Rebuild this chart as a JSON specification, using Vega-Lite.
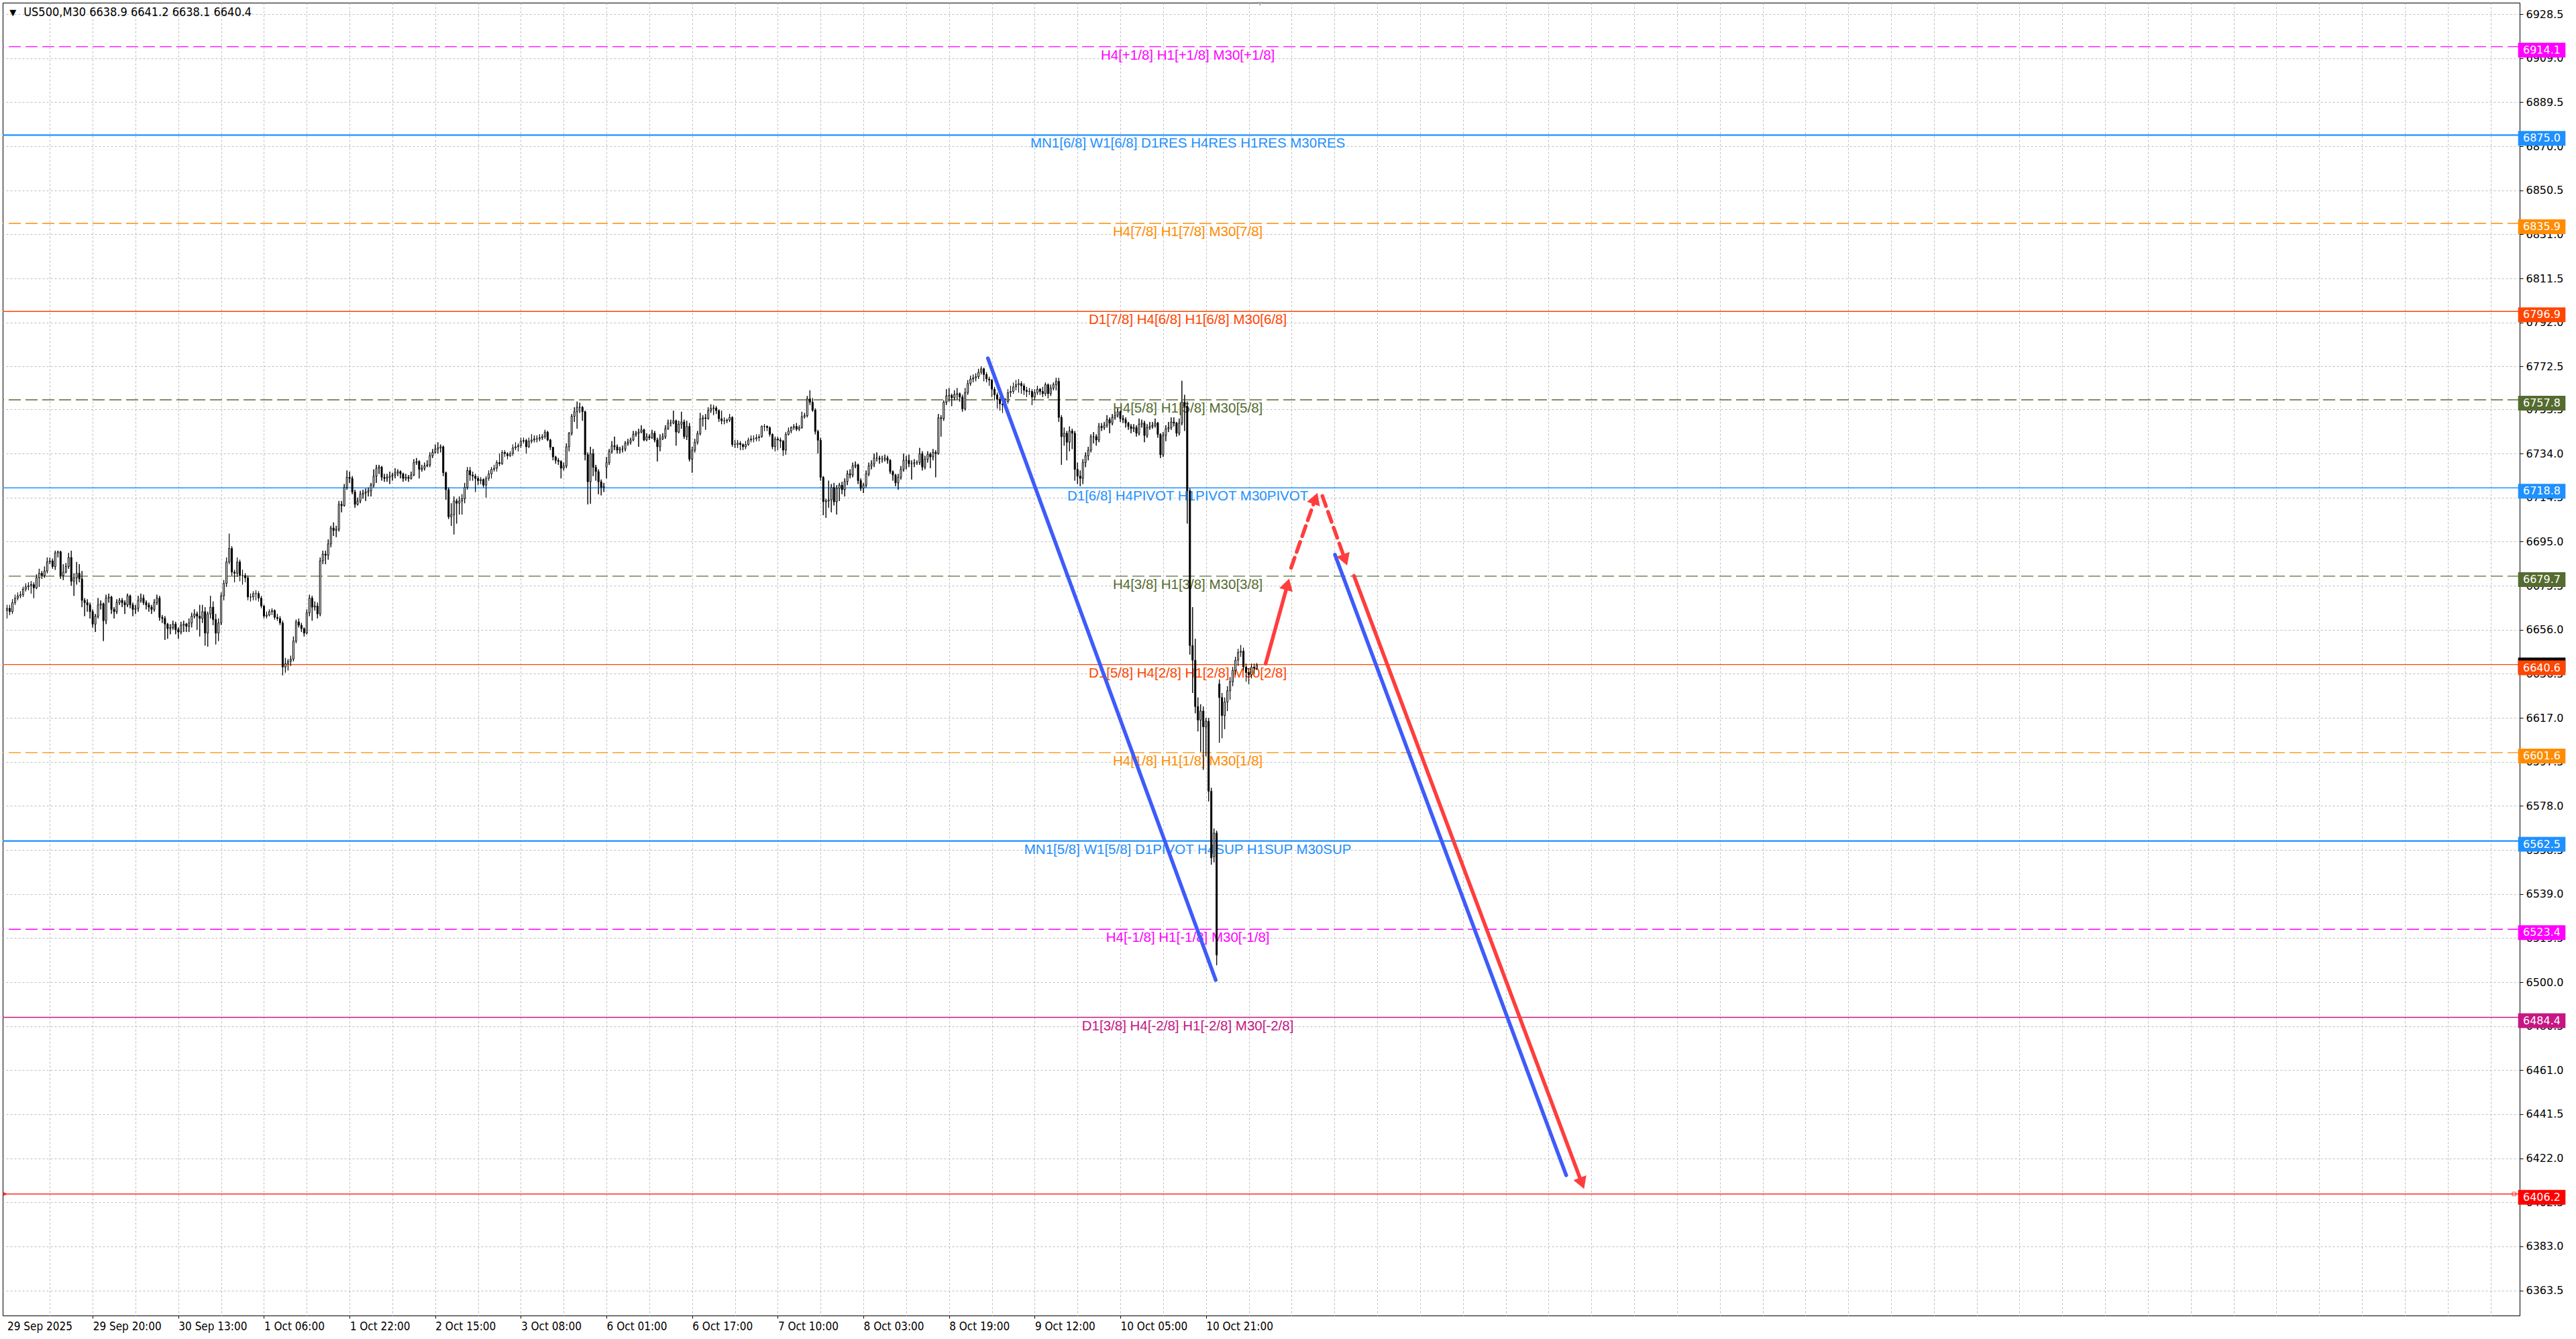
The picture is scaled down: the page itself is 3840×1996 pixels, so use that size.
{
  "$schema": "https://vega.github.io/schema/vega-lite/v6.json",
  "width": 3752,
  "height": 1957,
  "autosize": {"type": "none"},
  "padding": {"left": 4, "top": 4, "right": 84, "bottom": 35},
  "background": "white",
  "config": {
    "view": {"stroke": "black", "strokeWidth": 1},
    "axis": {"domain": false}
  },
  "datasets": {
    "levels": [
      {"p": 6914.1, "k": "+1/8", "t": "H4[+1/8] H1[+1/8] M30[+1/8]"},
      {"p": 6875.0, "k": "8/8", "t": "MN1[6/8] W1[6/8] D1RES H4RES H1RES M30RES"},
      {"p": 6835.9, "k": "7/8", "t": "H4[7/8] H1[7/8] M30[7/8]"},
      {"p": 6796.9, "k": "6/8", "t": "D1[7/8] H4[6/8] H1[6/8] M30[6/8]"},
      {"p": 6757.8, "k": "5/8", "t": "H4[5/8] H1[5/8] M30[5/8]"},
      {"p": 6718.8, "k": "4/8", "t": "D1[6/8] H4PIVOT H1PIVOT M30PIVOT"},
      {"p": 6679.7, "k": "3/8", "t": "H4[3/8] H1[3/8] M30[3/8]"},
      {"p": 6640.6, "k": "2/8", "t": "D1[5/8] H4[2/8] H1[2/8] M30[2/8]"},
      {"p": 6601.6, "k": "1/8", "t": "H4[1/8] H1[1/8] M30[1/8]"},
      {"p": 6562.5, "k": "0/8", "t": "MN1[5/8] W1[5/8] D1PIVOT H4SUP H1SUP M30SUP"},
      {"p": 6523.4, "k": "-1/8", "t": "H4[-1/8] H1[-1/8] M30[-1/8]"},
      {"p": 6484.4, "k": "-2/8", "t": "D1[3/8] H4[-2/8] H1[-2/8] M30[-2/8]"},
      {"p": 6406.2, "k": "target", "t": ""}
    ],
    "segs": [
      {"seg": "b1", "i": 366.5, "p": 6776.2},
      {"seg": "b1", "i": 451.65, "p": 6500.9},
      {"seg": "r1", "i": 470.3, "p": 6641.0},
      {"seg": "r1", "i": 478.5, "p": 6676.1},
      {"seg": "r2", "i": 479.8, "p": 6683.4},
      {"seg": "r2", "i": 488.9, "p": 6714.1},
      {"seg": "r3", "i": 491.5, "p": 6715.2},
      {"seg": "r3", "i": 500.0, "p": 6686.9},
      {"seg": "b2", "i": 496.2, "p": 6689.2},
      {"seg": "b2", "i": 582.6, "p": 6414.5},
      {"seg": "r4", "i": 503.3, "p": 6679.9},
      {"seg": "r4", "i": 588.5, "p": 6410.9}
    ],
    "heads": [
      {"seg": "r1", "i": 478.5, "p": 6676.1},
      {"seg": "r2", "i": 488.9, "p": 6714.1},
      {"seg": "r3", "i": 500.0, "p": 6686.9},
      {"seg": "r4", "i": 588.5, "p": 6410.9}
    ],
    "bars": [
      {"i":0,"o":6664.5,"h":6667,"l":6661,"c":6665.5},
      {"i":1,"o":6665.5,"h":6667,"l":6662.5,"c":6664},
      {"i":2,"o":6664,"h":6669.5,"l":6663,"c":6668},
      {"i":3,"o":6668,"h":6671.5,"l":6667,"c":6670},
      {"i":4,"o":6670,"h":6672.5,"l":6669,"c":6671},
      {"i":5,"o":6671,"h":6673,"l":6670,"c":6671.5},
      {"i":6,"o":6671.5,"h":6675,"l":6670.5,"c":6674},
      {"i":7,"o":6674,"h":6676.5,"l":6673,"c":6675},
      {"i":8,"o":6675,"h":6677,"l":6673.5,"c":6675.5},
      {"i":9,"o":6675.5,"h":6677.5,"l":6672,"c":6676},
      {"i":10,"o":6676,"h":6677,"l":6670,"c":6674.5},
      {"i":11,"o":6674.5,"h":6680.5,"l":6674,"c":6679},
      {"i":12,"o":6679,"h":6683,"l":6675,"c":6681},
      {"i":13,"o":6681,"h":6682,"l":6678.5,"c":6680},
      {"i":14,"o":6680,"h":6684,"l":6679,"c":6682},
      {"i":15,"o":6682,"h":6688,"l":6681,"c":6686},
      {"i":16,"o":6686,"h":6688,"l":6685,"c":6686.5},
      {"i":17,"o":6686.5,"h":6687.5,"l":6683,"c":6684},
      {"i":18,"o":6684,"h":6691,"l":6682.5,"c":6690},
      {"i":19,"o":6690,"h":6691,"l":6688,"c":6690.5},
      {"i":20,"o":6690.5,"h":6691,"l":6678.5,"c":6680},
      {"i":21,"o":6680,"h":6685,"l":6678,"c":6681.5},
      {"i":22,"o":6681.5,"h":6685.5,"l":6681,"c":6684},
      {"i":23,"o":6684,"h":6690,"l":6683,"c":6688},
      {"i":24,"o":6688,"h":6691,"l":6675.5,"c":6677.5},
      {"i":25,"o":6677.5,"h":6681,"l":6671,"c":6679},
      {"i":26,"o":6679,"h":6686,"l":6676,"c":6681},
      {"i":27,"o":6681,"h":6685,"l":6677,"c":6678.5},
      {"i":28,"o":6678.5,"h":6682,"l":6666,"c":6669},
      {"i":29,"o":6669,"h":6670,"l":6662,"c":6668},
      {"i":30,"o":6668,"h":6669.5,"l":6664,"c":6667},
      {"i":31,"o":6667,"h":6668,"l":6661,"c":6664},
      {"i":32,"o":6664,"h":6665,"l":6657,"c":6658.5},
      {"i":33,"o":6658.5,"h":6663,"l":6655,"c":6662},
      {"i":34,"o":6662,"h":6670,"l":6661,"c":6667},
      {"i":35,"o":6667,"h":6669,"l":6665,"c":6667.5},
      {"i":36,"o":6667.5,"h":6668,"l":6651,"c":6660},
      {"i":37,"o":6660,"h":6671.5,"l":6658.5,"c":6670},
      {"i":38,"o":6670,"h":6672,"l":6668,"c":6670.5},
      {"i":39,"o":6670.5,"h":6671,"l":6663,"c":6665},
      {"i":40,"o":6665,"h":6666,"l":6661,"c":6664},
      {"i":41,"o":6664,"h":6669.5,"l":6663,"c":6668},
      {"i":42,"o":6668,"h":6670,"l":6667,"c":6669},
      {"i":43,"o":6669,"h":6670,"l":6666,"c":6668},
      {"i":44,"o":6668,"h":6669,"l":6663,"c":6667},
      {"i":45,"o":6667,"h":6672,"l":6666,"c":6671},
      {"i":46,"o":6671,"h":6671.5,"l":6665.5,"c":6667},
      {"i":47,"o":6667,"h":6668,"l":6662,"c":6665},
      {"i":48,"o":6665,"h":6667,"l":6663,"c":6665.5},
      {"i":49,"o":6665.5,"h":6671,"l":6664,"c":6669},
      {"i":50,"o":6669,"h":6672,"l":6668,"c":6670},
      {"i":51,"o":6670,"h":6671.5,"l":6667,"c":6668},
      {"i":52,"o":6668,"h":6669,"l":6665,"c":6667},
      {"i":53,"o":6667,"h":6668,"l":6664,"c":6666},
      {"i":54,"o":6666,"h":6667,"l":6663,"c":6665},
      {"i":55,"o":6665,"h":6669.5,"l":6664,"c":6668},
      {"i":56,"o":6668,"h":6671.5,"l":6667,"c":6670},
      {"i":57,"o":6670,"h":6671,"l":6660,"c":6661.5},
      {"i":58,"o":6661.5,"h":6662.5,"l":6659,"c":6661},
      {"i":59,"o":6661,"h":6662,"l":6651.5,"c":6658.5},
      {"i":60,"o":6658.5,"h":6659,"l":6652,"c":6656.5},
      {"i":61,"o":6656.5,"h":6658.5,"l":6654,"c":6657},
      {"i":62,"o":6657,"h":6660,"l":6656,"c":6658.5},
      {"i":63,"o":6658.5,"h":6659.5,"l":6654,"c":6656},
      {"i":64,"o":6656,"h":6657,"l":6652,"c":6655},
      {"i":65,"o":6655,"h":6659.5,"l":6654,"c":6658},
      {"i":66,"o":6658,"h":6660,"l":6655,"c":6658.5},
      {"i":67,"o":6658.5,"h":6659,"l":6655,"c":6657.5},
      {"i":68,"o":6657.5,"h":6661,"l":6655,"c":6659},
      {"i":69,"o":6659,"h":6663.5,"l":6657,"c":6662},
      {"i":70,"o":6662,"h":6665,"l":6661,"c":6663},
      {"i":71,"o":6663,"h":6664,"l":6656,"c":6662},
      {"i":72,"o":6662,"h":6667,"l":6653,"c":6661},
      {"i":73,"o":6661,"h":6667,"l":6659,"c":6664},
      {"i":74,"o":6664,"h":6666,"l":6649,"c":6654.5},
      {"i":75,"o":6654.5,"h":6664,"l":6648.5,"c":6663},
      {"i":76,"o":6663,"h":6671,"l":6661,"c":6666},
      {"i":77,"o":6666,"h":6668.5,"l":6658,"c":6660.5},
      {"i":78,"o":6660.5,"h":6663,"l":6649.5,"c":6654.5},
      {"i":79,"o":6654.5,"h":6661,"l":6651,"c":6659},
      {"i":80,"o":6659,"h":6672.5,"l":6658,"c":6671},
      {"i":81,"o":6671,"h":6678,"l":6669,"c":6676.5},
      {"i":82,"o":6676.5,"h":6688,"l":6675,"c":6686},
      {"i":83,"o":6686,"h":6698.5,"l":6685,"c":6692},
      {"i":84,"o":6692,"h":6693,"l":6680,"c":6681.5},
      {"i":85,"o":6681.5,"h":6682.5,"l":6677,"c":6681},
      {"i":86,"o":6681,"h":6688,"l":6679.5,"c":6686},
      {"i":87,"o":6686,"h":6687,"l":6677.5,"c":6680},
      {"i":88,"o":6680,"h":6682.5,"l":6676,"c":6680},
      {"i":89,"o":6680,"h":6681,"l":6677,"c":6679},
      {"i":90,"o":6679,"h":6680,"l":6669,"c":6670.5},
      {"i":91,"o":6670.5,"h":6672,"l":6668.5,"c":6670.5},
      {"i":92,"o":6670.5,"h":6673,"l":6669,"c":6672},
      {"i":93,"o":6672,"h":6673.5,"l":6669,"c":6672},
      {"i":94,"o":6672,"h":6673,"l":6668.5,"c":6670},
      {"i":95,"o":6670,"h":6671,"l":6665.5,"c":6666.5},
      {"i":96,"o":6666.5,"h":6667,"l":6661,"c":6662},
      {"i":97,"o":6662,"h":6664,"l":6661,"c":6662.5},
      {"i":98,"o":6662.5,"h":6665,"l":6662,"c":6664},
      {"i":99,"o":6664,"h":6665.5,"l":6662.5,"c":6664.5},
      {"i":100,"o":6664.5,"h":6665,"l":6660.5,"c":6661.5},
      {"i":101,"o":6661.5,"h":6663,"l":6660,"c":6661},
      {"i":102,"o":6661,"h":6662,"l":6658,"c":6659},
      {"i":103,"o":6659,"h":6660,"l":6635.8,"c":6639.5},
      {"i":104,"o":6639.5,"h":6643.5,"l":6637,"c":6641},
      {"i":105,"o":6641,"h":6643,"l":6638,"c":6642},
      {"i":106,"o":6642,"h":6644.5,"l":6640,"c":6643},
      {"i":107,"o":6643,"h":6653,"l":6642,"c":6651},
      {"i":108,"o":6651,"h":6660.5,"l":6650,"c":6659.5},
      {"i":109,"o":6659.5,"h":6661,"l":6657,"c":6658},
      {"i":110,"o":6658,"h":6659,"l":6655,"c":6656.5},
      {"i":111,"o":6656.5,"h":6657,"l":6653,"c":6654.5},
      {"i":112,"o":6654.5,"h":6665,"l":6654,"c":6663.5},
      {"i":113,"o":6663.5,"h":6671.5,"l":6662,"c":6670},
      {"i":114,"o":6670,"h":6671,"l":6660,"c":6666},
      {"i":115,"o":6666,"h":6668.5,"l":6664.5,"c":6666.5},
      {"i":116,"o":6666.5,"h":6668,"l":6661,"c":6663},
      {"i":117,"o":6663,"h":6688,"l":6662,"c":6686.5},
      {"i":118,"o":6686.5,"h":6691,"l":6685,"c":6689.5},
      {"i":119,"o":6689.5,"h":6691,"l":6685,"c":6689},
      {"i":120,"o":6689,"h":6696,"l":6687,"c":6694},
      {"i":121,"o":6694,"h":6702,"l":6692.5,"c":6701},
      {"i":122,"o":6701,"h":6703.5,"l":6697.5,"c":6700},
      {"i":123,"o":6700,"h":6702,"l":6697,"c":6700.5},
      {"i":124,"o":6700.5,"h":6713,"l":6699.5,"c":6711.5},
      {"i":125,"o":6711.5,"h":6713,"l":6708,"c":6711},
      {"i":126,"o":6711,"h":6720.5,"l":6710.5,"c":6719},
      {"i":127,"o":6719,"h":6726.5,"l":6718,"c":6723.5},
      {"i":128,"o":6723.5,"h":6726,"l":6721,"c":6723},
      {"i":129,"o":6723,"h":6724,"l":6716,"c":6717},
      {"i":130,"o":6717,"h":6718,"l":6710,"c":6711.5},
      {"i":131,"o":6711.5,"h":6714.5,"l":6711,"c":6713},
      {"i":132,"o":6713,"h":6717.5,"l":6712,"c":6716},
      {"i":133,"o":6716,"h":6718,"l":6714,"c":6716.5},
      {"i":134,"o":6716.5,"h":6718.5,"l":6713,"c":6717},
      {"i":135,"o":6717,"h":6719,"l":6715,"c":6717.5},
      {"i":136,"o":6717.5,"h":6721,"l":6715,"c":6720},
      {"i":137,"o":6720,"h":6727,"l":6719,"c":6724},
      {"i":138,"o":6724,"h":6729,"l":6721,"c":6727.5},
      {"i":139,"o":6727.5,"h":6729,"l":6725,"c":6728},
      {"i":140,"o":6728,"h":6728.5,"l":6722,"c":6723.5},
      {"i":141,"o":6723.5,"h":6725,"l":6721.5,"c":6723},
      {"i":142,"o":6723,"h":6725,"l":6721.5,"c":6723.5},
      {"i":143,"o":6723.5,"h":6726,"l":6720.5,"c":6724},
      {"i":144,"o":6724,"h":6725.5,"l":6722,"c":6724.5},
      {"i":145,"o":6724.5,"h":6727.5,"l":6723,"c":6725.5},
      {"i":146,"o":6725.5,"h":6727,"l":6724,"c":6726},
      {"i":147,"o":6726,"h":6726.5,"l":6723,"c":6725},
      {"i":148,"o":6725,"h":6725.5,"l":6721.5,"c":6723},
      {"i":149,"o":6723,"h":6725,"l":6722,"c":6723.5},
      {"i":150,"o":6723.5,"h":6724.5,"l":6721.5,"c":6723},
      {"i":151,"o":6723,"h":6726,"l":6722.5,"c":6724.5},
      {"i":152,"o":6724.5,"h":6731.5,"l":6724,"c":6730},
      {"i":153,"o":6730,"h":6732,"l":6729,"c":6730.5},
      {"i":154,"o":6730.5,"h":6731,"l":6723,"c":6727},
      {"i":155,"o":6727,"h":6729,"l":6726,"c":6727.5},
      {"i":156,"o":6727.5,"h":6730,"l":6726.5,"c":6728.5},
      {"i":157,"o":6728.5,"h":6731,"l":6728,"c":6729},
      {"i":158,"o":6729,"h":6734.5,"l":6728,"c":6733},
      {"i":159,"o":6733,"h":6736,"l":6732,"c":6734.5},
      {"i":160,"o":6734.5,"h":6738,"l":6734,"c":6736},
      {"i":161,"o":6736,"h":6739,"l":6734,"c":6736.5},
      {"i":162,"o":6736.5,"h":6738,"l":6734.5,"c":6737},
      {"i":163,"o":6737,"h":6737.5,"l":6724,"c":6725.5},
      {"i":164,"o":6725.5,"h":6726,"l":6713.5,"c":6718},
      {"i":165,"o":6718,"h":6719,"l":6705,"c":6706},
      {"i":166,"o":6706,"h":6712,"l":6702,"c":6707},
      {"i":167,"o":6707,"h":6715,"l":6698.2,"c":6713},
      {"i":168,"o":6713,"h":6714,"l":6703,"c":6712},
      {"i":169,"o":6712,"h":6715,"l":6707,"c":6713},
      {"i":170,"o":6713,"h":6716,"l":6707,"c":6714},
      {"i":171,"o":6714,"h":6721,"l":6712,"c":6719},
      {"i":172,"o":6719,"h":6728,"l":6718,"c":6726.5},
      {"i":173,"o":6726.5,"h":6728,"l":6722,"c":6724.5},
      {"i":174,"o":6724.5,"h":6726,"l":6722,"c":6724},
      {"i":175,"o":6724,"h":6725,"l":6717,"c":6723},
      {"i":176,"o":6723,"h":6724,"l":6720,"c":6722},
      {"i":177,"o":6722,"h":6723.5,"l":6720.5,"c":6722.5},
      {"i":178,"o":6722.5,"h":6723,"l":6719,"c":6720},
      {"i":179,"o":6720,"h":6724,"l":6714.5,"c":6723},
      {"i":180,"o":6723,"h":6726.5,"l":6722,"c":6725},
      {"i":181,"o":6725,"h":6728,"l":6723,"c":6727},
      {"i":182,"o":6727,"h":6729,"l":6726,"c":6727.5},
      {"i":183,"o":6727.5,"h":6731,"l":6726,"c":6730},
      {"i":184,"o":6730,"h":6734,"l":6728.5,"c":6729.5},
      {"i":185,"o":6729.5,"h":6735.5,"l":6729,"c":6734.5},
      {"i":186,"o":6734.5,"h":6735.5,"l":6732.5,"c":6734},
      {"i":187,"o":6734,"h":6734.5,"l":6731.5,"c":6733},
      {"i":188,"o":6733,"h":6735,"l":6732.5,"c":6734},
      {"i":189,"o":6734,"h":6738,"l":6733,"c":6736.5},
      {"i":190,"o":6736.5,"h":6739,"l":6735.5,"c":6737},
      {"i":191,"o":6737,"h":6738.5,"l":6735,"c":6737.5},
      {"i":192,"o":6737.5,"h":6741,"l":6736.5,"c":6739.5},
      {"i":193,"o":6739.5,"h":6741,"l":6738.5,"c":6739.8},
      {"i":194,"o":6739.8,"h":6740.5,"l":6734,"c":6737},
      {"i":195,"o":6737,"h":6741,"l":6736.5,"c":6739.5},
      {"i":196,"o":6739.5,"h":6742.5,"l":6738.5,"c":6740},
      {"i":197,"o":6740,"h":6742,"l":6739,"c":6740.5},
      {"i":198,"o":6740.5,"h":6742,"l":6739,"c":6740.5},
      {"i":199,"o":6740.5,"h":6742.5,"l":6739.5,"c":6741},
      {"i":200,"o":6741,"h":6742.5,"l":6740,"c":6741.5},
      {"i":201,"o":6741.5,"h":6744.5,"l":6740.5,"c":6743.5},
      {"i":202,"o":6743.5,"h":6744,"l":6739.5,"c":6740},
      {"i":203,"o":6740,"h":6740.5,"l":6735.5,"c":6736.8},
      {"i":204,"o":6736.8,"h":6737,"l":6731,"c":6732.5},
      {"i":205,"o":6732.5,"h":6733,"l":6729.5,"c":6731},
      {"i":206,"o":6731,"h":6732,"l":6729,"c":6730.5},
      {"i":207,"o":6730.5,"h":6731,"l":6723,"c":6727.5},
      {"i":208,"o":6727.5,"h":6730,"l":6726.5,"c":6728.5},
      {"i":209,"o":6728.5,"h":6738.5,"l":6727.5,"c":6737},
      {"i":210,"o":6737,"h":6743.5,"l":6735,"c":6743},
      {"i":211,"o":6743,"h":6751.5,"l":6742,"c":6750.5},
      {"i":212,"o":6750.5,"h":6754.5,"l":6748,"c":6752.5},
      {"i":213,"o":6752.5,"h":6757,"l":6745,"c":6754.5},
      {"i":214,"o":6754.5,"h":6756.5,"l":6752,"c":6754.5},
      {"i":215,"o":6754.5,"h":6755,"l":6748.5,"c":6752.5},
      {"i":216,"o":6752.5,"h":6753,"l":6731,"c":6733.5},
      {"i":217,"o":6733.5,"h":6734.5,"l":6711.5,"c":6721.5},
      {"i":218,"o":6721.5,"h":6737,"l":6711.8,"c":6734},
      {"i":219,"o":6734,"h":6736,"l":6724,"c":6727.9},
      {"i":220,"o":6727.9,"h":6729,"l":6722,"c":6726},
      {"i":221,"o":6726,"h":6727,"l":6716,"c":6721.5},
      {"i":222,"o":6721.5,"h":6722.5,"l":6715.5,"c":6719},
      {"i":223,"o":6719,"h":6721,"l":6717,"c":6719.5},
      {"i":224,"o":6728,"h":6732.5,"l":6723,"c":6730},
      {"i":225,"o":6730,"h":6736,"l":6729,"c":6735},
      {"i":226,"o":6735,"h":6739.5,"l":6734,"c":6737.5},
      {"i":227,"o":6737.5,"h":6741.5,"l":6735.5,"c":6737},
      {"i":228,"o":6737,"h":6738,"l":6734,"c":6735.5},
      {"i":229,"o":6735.5,"h":6737,"l":6734,"c":6736},
      {"i":230,"o":6736,"h":6737.5,"l":6734.5,"c":6736},
      {"i":231,"o":6736,"h":6739.5,"l":6735,"c":6738.5},
      {"i":232,"o":6738.5,"h":6740.5,"l":6737.5,"c":6739},
      {"i":233,"o":6739,"h":6741,"l":6738,"c":6740},
      {"i":234,"o":6740,"h":6744,"l":6739.5,"c":6742.5},
      {"i":235,"o":6742.5,"h":6744,"l":6741.5,"c":6743},
      {"i":236,"o":6743,"h":6745,"l":6737,"c":6743.5},
      {"i":237,"o":6743.5,"h":6746.5,"l":6743,"c":6744.5},
      {"i":238,"o":6744.5,"h":6745,"l":6739.5,"c":6740},
      {"i":239,"o":6740,"h":6743,"l":6739.5,"c":6741.5},
      {"i":240,"o":6741.5,"h":6742.5,"l":6740,"c":6741},
      {"i":241,"o":6741,"h":6744.5,"l":6740.5,"c":6743},
      {"i":242,"o":6743,"h":6744,"l":6739,"c":6740},
      {"i":243,"o":6740,"h":6741,"l":6730.5,"c":6737},
      {"i":244,"o":6737,"h":6742.5,"l":6735,"c":6740.5},
      {"i":245,"o":6740.5,"h":6743,"l":6740,"c":6741.5},
      {"i":246,"o":6741.5,"h":6746.5,"l":6740.5,"c":6745},
      {"i":247,"o":6745,"h":6749,"l":6744.5,"c":6747.5},
      {"i":248,"o":6747.5,"h":6749,"l":6746,"c":6747.5},
      {"i":249,"o":6747.5,"h":6753,"l":6747,"c":6748.5},
      {"i":250,"o":6748.5,"h":6749,"l":6737.5,"c":6743.5},
      {"i":251,"o":6743.5,"h":6748.5,"l":6743,"c":6747},
      {"i":252,"o":6747,"h":6752.5,"l":6745,"c":6748},
      {"i":253,"o":6748,"h":6749,"l":6740.5,"c":6741.5},
      {"i":254,"o":6741.5,"h":6748.5,"l":6740,"c":6746},
      {"i":255,"o":6746,"h":6747.5,"l":6730.5,"c":6731.5},
      {"i":256,"o":6731.5,"h":6737,"l":6725.5,"c":6735.5},
      {"i":257,"o":6735.5,"h":6740.5,"l":6734.5,"c":6739},
      {"i":258,"o":6739,"h":6744,"l":6738,"c":6742.8},
      {"i":259,"o":6742.8,"h":6752,"l":6742,"c":6749.3},
      {"i":260,"o":6749.3,"h":6751,"l":6746,"c":6749.8},
      {"i":261,"o":6749.8,"h":6751.5,"l":6744.5,"c":6749.5},
      {"i":262,"o":6749.5,"h":6754.5,"l":6749,"c":6753},
      {"i":263,"o":6753,"h":6755.8,"l":6752,"c":6754},
      {"i":264,"o":6754,"h":6755.5,"l":6751,"c":6754.2},
      {"i":265,"o":6754.2,"h":6755,"l":6751.5,"c":6753},
      {"i":266,"o":6753,"h":6753.5,"l":6748,"c":6749.4},
      {"i":267,"o":6749.4,"h":6753,"l":6747,"c":6748.5},
      {"i":268,"o":6748.5,"h":6750,"l":6747,"c":6748.5},
      {"i":269,"o":6748.5,"h":6749.5,"l":6747.5,"c":6748.8},
      {"i":270,"o":6748.8,"h":6751.5,"l":6748,"c":6750},
      {"i":271,"o":6750,"h":6750.5,"l":6737,"c":6738},
      {"i":272,"o":6738,"h":6740,"l":6736.5,"c":6738},
      {"i":273,"o":6738,"h":6740,"l":6736.5,"c":6738.6},
      {"i":274,"o":6738.6,"h":6739.5,"l":6735.5,"c":6738},
      {"i":275,"o":6738,"h":6738.5,"l":6735.5,"c":6737},
      {"i":276,"o":6737,"h":6739.5,"l":6736,"c":6738},
      {"i":277,"o":6738,"h":6741,"l":6737.5,"c":6740},
      {"i":278,"o":6740,"h":6742,"l":6739,"c":6740.5},
      {"i":279,"o":6740.5,"h":6742,"l":6739,"c":6740.5},
      {"i":280,"o":6740.5,"h":6742.5,"l":6739.5,"c":6741},
      {"i":281,"o":6741,"h":6742.5,"l":6739.5,"c":6741.5},
      {"i":282,"o":6741.5,"h":6746.5,"l":6741,"c":6746},
      {"i":283,"o":6746,"h":6747,"l":6744,"c":6746},
      {"i":284,"o":6746,"h":6746.5,"l":6744,"c":6745.5},
      {"i":285,"o":6745.5,"h":6746,"l":6741.5,"c":6742.5},
      {"i":286,"o":6742.5,"h":6743,"l":6736,"c":6737},
      {"i":287,"o":6737,"h":6741.5,"l":6735,"c":6740.5},
      {"i":288,"o":6740.5,"h":6741.5,"l":6735.5,"c":6740},
      {"i":289,"o":6740,"h":6741,"l":6736.5,"c":6739.5},
      {"i":290,"o":6739.5,"h":6740,"l":6733,"c":6735.5},
      {"i":291,"o":6735.5,"h":6743.5,"l":6733.5,"c":6742.5},
      {"i":292,"o":6742.5,"h":6745.5,"l":6742,"c":6744},
      {"i":293,"o":6744,"h":6746,"l":6743,"c":6745.5},
      {"i":294,"o":6745.5,"h":6747,"l":6744.5,"c":6746},
      {"i":295,"o":6746,"h":6747.5,"l":6744,"c":6744.8},
      {"i":296,"o":6744.8,"h":6746.5,"l":6744,"c":6745.5},
      {"i":297,"o":6745.5,"h":6752.5,"l":6745,"c":6750.3},
      {"i":298,"o":6750.3,"h":6752,"l":6749.5,"c":6750.8},
      {"i":299,"o":6750.8,"h":6759.5,"l":6750,"c":6758.2},
      {"i":300,"o":6758.2,"h":6762,"l":6755.5,"c":6756.7},
      {"i":301,"o":6756.7,"h":6758.5,"l":6752.5,"c":6753.2},
      {"i":302,"o":6753.2,"h":6754,"l":6742.5,"c":6743.8},
      {"i":303,"o":6743.8,"h":6744.5,"l":6734,"c":6739.9},
      {"i":304,"o":6739.9,"h":6741,"l":6722,"c":6723.5},
      {"i":305,"o":6723.5,"h":6724,"l":6706.7,"c":6712.7},
      {"i":306,"o":6712.7,"h":6714,"l":6705.5,"c":6713},
      {"i":307,"o":6713,"h":6722,"l":6710,"c":6713.5},
      {"i":308,"o":6713.5,"h":6720.5,"l":6708,"c":6719},
      {"i":309,"o":6719,"h":6721,"l":6711,"c":6712.6},
      {"i":310,"o":6712.6,"h":6720,"l":6707,"c":6718.6},
      {"i":311,"o":6718.6,"h":6721,"l":6713,"c":6720},
      {"i":312,"o":6720,"h":6721.5,"l":6716,"c":6718},
      {"i":313,"o":6718,"h":6723,"l":6715,"c":6721.6},
      {"i":314,"o":6721.6,"h":6726.5,"l":6720,"c":6725},
      {"i":315,"o":6725,"h":6727,"l":6723,"c":6724.5},
      {"i":316,"o":6724.5,"h":6730,"l":6723.5,"c":6728.5},
      {"i":317,"o":6728.5,"h":6730.5,"l":6727.5,"c":6729},
      {"i":318,"o":6729,"h":6729.5,"l":6720.5,"c":6722},
      {"i":319,"o":6722,"h":6723,"l":6717.5,"c":6718.6},
      {"i":320,"o":6718.6,"h":6721,"l":6716.5,"c":6720},
      {"i":321,"o":6720,"h":6726.5,"l":6719,"c":6725},
      {"i":322,"o":6725,"h":6730,"l":6724,"c":6728.5},
      {"i":323,"o":6728.5,"h":6731,"l":6727,"c":6729.4},
      {"i":324,"o":6729.4,"h":6734,"l":6728,"c":6732},
      {"i":325,"o":6732,"h":6734.5,"l":6730.5,"c":6732},
      {"i":326,"o":6732,"h":6733,"l":6729.5,"c":6731.5},
      {"i":327,"o":6731.5,"h":6733,"l":6730,"c":6731.5},
      {"i":328,"o":6731.5,"h":6733.5,"l":6730.5,"c":6732},
      {"i":329,"o":6732,"h":6733,"l":6729.5,"c":6731},
      {"i":330,"o":6731,"h":6731.5,"l":6725,"c":6726},
      {"i":331,"o":6726,"h":6726.5,"l":6722,"c":6724.5},
      {"i":332,"o":6724.5,"h":6725,"l":6719.5,"c":6721},
      {"i":333,"o":6721,"h":6725,"l":6718,"c":6723.5},
      {"i":334,"o":6723.5,"h":6728.5,"l":6722.5,"c":6727},
      {"i":335,"o":6727,"h":6734,"l":6726,"c":6731},
      {"i":336,"o":6731,"h":6733,"l":6727,"c":6731},
      {"i":337,"o":6731,"h":6733.5,"l":6728,"c":6729.5},
      {"i":338,"o":6729.5,"h":6731,"l":6722.5,"c":6729.5},
      {"i":339,"o":6729.5,"h":6731.5,"l":6728,"c":6730},
      {"i":340,"o":6730,"h":6731,"l":6729,"c":6730},
      {"i":341,"o":6730,"h":6736.5,"l":6729,"c":6733.9},
      {"i":342,"o":6733.9,"h":6735,"l":6726.5,"c":6728},
      {"i":343,"o":6728,"h":6733,"l":6727,"c":6731.5},
      {"i":344,"o":6731.5,"h":6735,"l":6730,"c":6733.7},
      {"i":345,"o":6733.7,"h":6734.5,"l":6727.5,"c":6732.5},
      {"i":346,"o":6732.5,"h":6736,"l":6731,"c":6734.5},
      {"i":347,"o":6734.5,"h":6735.5,"l":6723.5,"c":6734},
      {"i":348,"o":6734,"h":6751.5,"l":6733.5,"c":6749.8},
      {"i":349,"o":6749.8,"h":6751,"l":6741.5,"c":6749.5},
      {"i":350,"o":6749.5,"h":6757.5,"l":6748.5,"c":6756.7},
      {"i":351,"o":6756.7,"h":6762.5,"l":6755.5,"c":6759.5},
      {"i":352,"o":6759.5,"h":6763,"l":6757,"c":6759.7},
      {"i":353,"o":6759.7,"h":6760.5,"l":6755,"c":6758.7},
      {"i":354,"o":6758.7,"h":6762,"l":6757.5,"c":6760.2},
      {"i":355,"o":6760.2,"h":6763,"l":6758,"c":6760.5},
      {"i":356,"o":6760.5,"h":6761,"l":6757,"c":6759},
      {"i":357,"o":6759,"h":6760,"l":6752.5,"c":6753.8},
      {"i":358,"o":6753.8,"h":6763,"l":6753,"c":6761},
      {"i":359,"o":6761,"h":6766.5,"l":6760,"c":6765},
      {"i":360,"o":6765,"h":6768.5,"l":6764,"c":6767},
      {"i":361,"o":6767,"h":6769,"l":6765.5,"c":6767.5},
      {"i":362,"o":6767.5,"h":6769.5,"l":6766,"c":6768},
      {"i":363,"o":6768,"h":6771.5,"l":6767,"c":6770},
      {"i":364,"o":6770,"h":6772.6,"l":6769,"c":6771.5},
      {"i":365,"o":6771.5,"h":6772,"l":6766,"c":6769},
      {"i":366,"o":6769,"h":6770,"l":6765.5,"c":6767},
      {"i":367,"o":6767,"h":6768,"l":6764,"c":6766.5},
      {"i":368,"o":6766.5,"h":6767,"l":6759,"c":6762.5},
      {"i":369,"o":6762.5,"h":6763.5,"l":6757.5,"c":6760},
      {"i":370,"o":6760,"h":6761,"l":6754,"c":6758},
      {"i":371,"o":6758,"h":6759,"l":6753,"c":6756},
      {"i":372,"o":6756,"h":6758,"l":6752,"c":6755.5},
      {"i":373,"o":6755.5,"h":6758.5,"l":6754,"c":6757},
      {"i":374,"o":6757,"h":6762.5,"l":6756,"c":6761},
      {"i":375,"o":6761,"h":6764,"l":6759,"c":6761.5},
      {"i":376,"o":6761.5,"h":6765.5,"l":6760.5,"c":6763.5},
      {"i":377,"o":6763.5,"h":6766.5,"l":6762,"c":6764.5},
      {"i":378,"o":6764.5,"h":6767,"l":6761,"c":6765},
      {"i":379,"o":6765,"h":6766,"l":6760.5,"c":6764},
      {"i":380,"o":6764,"h":6765,"l":6760,"c":6762},
      {"i":381,"o":6762,"h":6763.5,"l":6759,"c":6761.5},
      {"i":382,"o":6761.5,"h":6763,"l":6760,"c":6761.5},
      {"i":383,"o":6761.5,"h":6762.5,"l":6755.5,"c":6759},
      {"i":384,"o":6759,"h":6762.5,"l":6757.5,"c":6761},
      {"i":385,"o":6761,"h":6764,"l":6760,"c":6762.5},
      {"i":386,"o":6762.5,"h":6763,"l":6760,"c":6761.5},
      {"i":387,"o":6761.5,"h":6763.5,"l":6759,"c":6760.5},
      {"i":388,"o":6760.5,"h":6765.5,"l":6759.5,"c":6764.5},
      {"i":389,"o":6764.5,"h":6765,"l":6758.5,"c":6760.5},
      {"i":390,"o":6760.5,"h":6764.5,"l":6759.5,"c":6763},
      {"i":391,"o":6763,"h":6765.5,"l":6762,"c":6764.5},
      {"i":392,"o":6764.5,"h":6767.5,"l":6762,"c":6766},
      {"i":393,"o":6766,"h":6767.5,"l":6748,"c":6750},
      {"i":394,"o":6750,"h":6751,"l":6729,"c":6741.5},
      {"i":395,"o":6741.5,"h":6745.5,"l":6737.5,"c":6743},
      {"i":396,"o":6743,"h":6744,"l":6731,"c":6739},
      {"i":397,"o":6739,"h":6746,"l":6735,"c":6744},
      {"i":398,"o":6744,"h":6745,"l":6736,"c":6743},
      {"i":399,"o":6743,"h":6744,"l":6722,"c":6727},
      {"i":400,"o":6727,"h":6730,"l":6720.5,"c":6724},
      {"i":401,"o":6724,"h":6726.5,"l":6719.5,"c":6723},
      {"i":402,"o":6723,"h":6731.5,"l":6720.5,"c":6730},
      {"i":403,"o":6730,"h":6734.5,"l":6728,"c":6733},
      {"i":404,"o":6733,"h":6737,"l":6731,"c":6735.5},
      {"i":405,"o":6735.5,"h":6742.5,"l":6734.5,"c":6741.5},
      {"i":406,"o":6741.5,"h":6743.5,"l":6738.5,"c":6741.5},
      {"i":407,"o":6741.5,"h":6742.5,"l":6737.5,"c":6740},
      {"i":408,"o":6740,"h":6747.5,"l":6739,"c":6746},
      {"i":409,"o":6746,"h":6747.5,"l":6744,"c":6745.5},
      {"i":410,"o":6745.5,"h":6748,"l":6744.5,"c":6746.5},
      {"i":411,"o":6746.5,"h":6751,"l":6745.5,"c":6749},
      {"i":412,"o":6749,"h":6750,"l":6743,"c":6747.5},
      {"i":413,"o":6747.5,"h":6751.5,"l":6746.5,"c":6750},
      {"i":414,"o":6750,"h":6752.5,"l":6749,"c":6751},
      {"i":415,"o":6751,"h":6754,"l":6750,"c":6752.5},
      {"i":416,"o":6752.5,"h":6753,"l":6748,"c":6749.5},
      {"i":417,"o":6749.5,"h":6751,"l":6747.5,"c":6749},
      {"i":418,"o":6749,"h":6750,"l":6745.5,"c":6747.5},
      {"i":419,"o":6747.5,"h":6748,"l":6744.5,"c":6746},
      {"i":420,"o":6746,"h":6747,"l":6743,"c":6745},
      {"i":421,"o":6745,"h":6747,"l":6743.5,"c":6745.5},
      {"i":422,"o":6745.5,"h":6746.5,"l":6741.5,"c":6743},
      {"i":423,"o":6743,"h":6749.5,"l":6742,"c":6747},
      {"i":424,"o":6747,"h":6749,"l":6745.5,"c":6747.5},
      {"i":425,"o":6747.5,"h":6748.5,"l":6739,"c":6742},
      {"i":426,"o":6742,"h":6747,"l":6741,"c":6745.5},
      {"i":427,"o":6745.5,"h":6748,"l":6744.5,"c":6746},
      {"i":428,"o":6746,"h":6748,"l":6745,"c":6746.5},
      {"i":429,"o":6746.5,"h":6749.5,"l":6745.5,"c":6747.5},
      {"i":430,"o":6747.5,"h":6748,"l":6741,"c":6742.5},
      {"i":431,"o":6742.5,"h":6743,"l":6732,"c":6733.5},
      {"i":432,"o":6733.5,"h":6743.5,"l":6732.5,"c":6742},
      {"i":433,"o":6742,"h":6746.5,"l":6739.5,"c":6745},
      {"i":434,"o":6745,"h":6748,"l":6743.5,"c":6745.5},
      {"i":435,"o":6745.5,"h":6750,"l":6744.5,"c":6748},
      {"i":436,"o":6748,"h":6750,"l":6746,"c":6747.5},
      {"i":437,"o":6747.5,"h":6748,"l":6741.5,"c":6743},
      {"i":438,"o":6743,"h":6749.5,"l":6742,"c":6747.5},
      {"i":439,"o":6747.5,"h":6766.2,"l":6746.5,"c":6756.8},
      {"i":440,"o":6756.8,"h":6760,"l":6744,"c":6755},
      {"i":441,"o":6755,"h":6757,"l":6703,"c":6717.5},
      {"i":442,"o":6717.5,"h":6718.5,"l":6645,"c":6649},
      {"i":443,"o":6649,"h":6666,"l":6628,"c":6642.5},
      {"i":444,"o":6642.5,"h":6652,"l":6619,"c":6622},
      {"i":445,"o":6622,"h":6626,"l":6611,"c":6616},
      {"i":446,"o":6616,"h":6623,"l":6602,"c":6620},
      {"i":447,"o":6620,"h":6622,"l":6594,"c":6613},
      {"i":448,"o":6613,"h":6617,"l":6600,"c":6615.5},
      {"i":449,"o":6615.5,"h":6617,"l":6580,"c":6584.5},
      {"i":450,"o":6584.5,"h":6586,"l":6552,"c":6555},
      {"i":451,"o":6555.5,"h":6568,"l":6553,"c":6566},
      {"i":452,"o":6566,"h":6567,"l":6507.5,"c":6512},
      {"i":453,"o":6632,"h":6634,"l":6606,"c":6626},
      {"i":454,"o":6626,"h":6628,"l":6608,"c":6618},
      {"i":455,"o":6618,"h":6626,"l":6612,"c":6624},
      {"i":456,"o":6624,"h":6631,"l":6620,"c":6629},
      {"i":457,"o":6629,"h":6635,"l":6625,"c":6633},
      {"i":458,"o":6633,"h":6639.5,"l":6631,"c":6638},
      {"i":459,"o":6638,"h":6644,"l":6636,"c":6642.5},
      {"i":460,"o":6642.5,"h":6647.5,"l":6640,"c":6646},
      {"i":461,"o":6646,"h":6649.2,"l":6644,"c":6646.5},
      {"i":462,"o":6646.5,"h":6648,"l":6638,"c":6639.5},
      {"i":463,"o":6639.5,"h":6641,"l":6633,"c":6637},
      {"i":464,"o":6637,"h":6639,"l":6632,"c":6636},
      {"i":465,"o":6636,"h":6641,"l":6634.5,"c":6639.5},
      {"i":466,"o":6639.5,"h":6641,"l":6636.5,"c":6638.9},
      {"i":467,"o":6638.9,"h":6641.2,"l":6638.1,"c":6640.4}
    ]
  },
  "resolve": {"scale": {"strokeDash": "independent"}},
  "layer": [
    {
      "data": {"name": "bars"},
      "mark": {"type": "rule", "color": "black", "strokeWidth": 1},
      "encoding": {
        "x": {
          "field": "i",
          "type": "quantitative",
          "scale": {"domain": [-0.375, 937.625], "nice": false, "zero": false},
          "axis": {
            "orient": "bottom",
            "title": null,
            "values": [0,16,32,48,64,80,96,112,128,144,160,176,192,208,224,240,256,272,288,304,320,336,352,368,384,400,416,432,448,464,480,496,512,528,544,560,576,592,608,624,640,656,672,688,704,720,736,752,768,784,800,816,832,848,864,880,896,912,928],
            "labelExpr": "datum.value==0?'29 Sep 2025':datum.value==32?'29 Sep 20:00':datum.value==64?'30 Sep 13:00':datum.value==96?'1 Oct 06:00':datum.value==128?'1 Oct 22:00':datum.value==160?'2 Oct 15:00':datum.value==192?'3 Oct 08:00':datum.value==224?'6 Oct 01:00':datum.value==256?'6 Oct 17:00':datum.value==288?'7 Oct 10:00':datum.value==320?'8 Oct 03:00':datum.value==352?'8 Oct 19:00':datum.value==384?'9 Oct 12:00':datum.value==416?'10 Oct 05:00':datum.value==448?'10 Oct 21:00':''",
            "labelAlign": "left",
            "labelBaseline": "top",
            "labelPadding": 4,
            "labelDx": -2,
            "labelFont": "DejaVu Sans Condensed, DejaVu Sans",
            "labelFontSize": 17,
            "labelColor": "black",
            "labelOverlap": false,
            "labelBound": false,
            "labelFlush": false,
            "tickSize": 4,
            "tickColor": "black",
            "tickOpacity": {"condition": {"test": "datum.value % 32 == 0 && datum.value <= 448 && datum.value > 0", "value": 1}, "value": 0},
            "grid": true,
            "gridColor": "#BDBDBD",
            "gridDash": [3, 3],
            "gridWidth": 1,
            "gridOpacity": {"condition": {"test": "datum.value == 0", "value": 0}, "value": 1},
            "zindex": 0
          }
        },
        "y": {
          "field": "l",
          "type": "quantitative",
          "scale": {"domain": [6352.4, 6933.6], "nice": false, "zero": false},
          "axis": {
            "orient": "right",
            "title": null,
            "values": [6928.5,6909.0,6889.5,6870.0,6850.5,6831.0,6811.5,6792.0,6772.5,6753.5,6734.0,6714.5,6695.0,6675.5,6656.0,6636.5,6617.0,6597.5,6578.0,6558.5,6539.0,6519.5,6500.0,6480.5,6461.0,6441.5,6422.0,6402.5,6383.0,6363.5],
            "format": ".1f",
            "labelFont": "DejaVu Sans",
            "labelFontSize": 16,
            "labelColor": "black",
            "labelPadding": 4,
            "labelOverlap": false,
            "labelBound": false,
            "labelFlush": false,
            "tickSize": 5,
            "tickColor": "black",
            "grid": true,
            "gridColor": "#BDBDBD",
            "gridDash": [3, 3],
            "gridWidth": 1,
            "zindex": 0
          }
        },
        "y2": {"field": "h"}
      }
    },
    {
      "data": {"name": "levels"},
      "transform": [{"filter": {"not": {"field": "k", "oneOf": ["8/8", "0/8"]}}}],
      "mark": {"type": "rule", "strokeWidth": 1.4},
      "encoding": {
        "y": {"field": "p", "type": "quantitative"},
        "color": {
          "field": "k", "type": "nominal", "legend": null,
          "scale": {
            "domain": ["+1/8","8/8","7/8","6/8","5/8","4/8","3/8","2/8","1/8","0/8","-1/8","-2/8","target"],
            "range": ["#FF00FF","#1E90FF","#FF8C00","#FF4500","#556B2F","#1E90FF","#556B2F","#FF4500","#FF8C00","#1E90FF","#FF00FF","#C71585","#FF0000"]
          }
        },
        "strokeDash": {
          "field": "k", "type": "nominal", "legend": null,
          "scale": {
            "domain": ["+1/8","8/8","7/8","6/8","5/8","4/8","3/8","2/8","1/8","0/8","-1/8","-2/8","target"],
            "range": [[18,7],[1,0],[18,7],[1,0],[18,7],[1,0],[18,7],[1,0],[18,7],[1,0],[18,7],[1,0],[1,0]]
          }
        }
      }
    },
    {
      "data": {"name": "levels"},
      "transform": [{"filter": {"field": "k", "oneOf": ["8/8", "0/8"]}}],
      "mark": {"type": "rule", "strokeWidth": 2.2},
      "encoding": {
        "y": {"field": "p", "type": "quantitative"},
        "color": {"field": "k", "type": "nominal", "legend": null}
      }
    },
    {
      "data": {"name": "levels"},
      "transform": [{"filter": "datum.t != ''"}],
      "mark": {"type": "text", "font": "Liberation Sans", "fontSize": 20.5, "align": "center", "baseline": "alphabetic", "dy": 19},
      "encoding": {
        "x": {"datum": 441.2, "type": "quantitative"},
        "y": {"field": "p", "type": "quantitative"},
        "text": {"field": "t"},
        "color": {"field": "k", "type": "nominal", "legend": null}
      }
    },
    {
      "data": {"name": "bars"},
      "mark": {"type": "rule", "color": "black", "strokeWidth": 1},
      "encoding": {
        "x": {"field": "i", "type": "quantitative"},
        "y": {"field": "l", "type": "quantitative"},
        "y2": {"field": "h"}
      }
    },
    {
      "data": {"name": "bars"},
      "mark": {"type": "bar", "width": 2, "stroke": "black", "strokeWidth": 1},
      "encoding": {
        "x": {"field": "i", "type": "quantitative"},
        "y": {"field": "o", "type": "quantitative"},
        "y2": {"field": "c"},
        "fill": {"condition": {"test": "datum.c < datum.o", "value": "black"}, "value": "white"}
      }
    },
    {
      "data": {"name": "segs"},
      "mark": {"type": "line", "strokeWidth": 5.5, "strokeCap": "round"},
      "encoding": {
        "x": {"field": "i", "type": "quantitative"},
        "y": {"field": "p", "type": "quantitative"},
        "detail": {"field": "seg"},
        "stroke": {
          "field": "seg", "type": "nominal", "legend": null,
          "scale": {"domain": ["b1","b2","r1","r2","r3","r4"], "range": ["#3E5BFA","#3E5BFA","#FF3D3D","#FF3D3D","#FF3D3D","#FF3D3D"]}
        },
        "strokeDash": {
          "field": "seg", "type": "nominal", "legend": null,
          "scale": {"domain": ["b1","b2","r1","r2","r3","r4"], "range": [[1,0],[1,0],[1,0],[16,9],[16,9],[1,0]]}
        }
      }
    },
    {
      "data": {"name": "heads"},
      "mark": {"type": "point", "shape": "triangle-up", "filled": true, "size": 420, "color": "#FF3D3D", "opacity": 1},
      "encoding": {
        "x": {"field": "i", "type": "quantitative"},
        "y": {"field": "p", "type": "quantitative"},
        "angle": {
          "condition": [
            {"test": "datum.seg === 'r1'", "value": 15.5},
            {"test": "datum.seg === 'r2'", "value": 19.4},
            {"test": "datum.seg === 'r3'", "value": 160.3}
          ],
          "value": 159.4
        }
      }
    },
    {
      "data": {"values": [{"p": 6640.4}]},
      "mark": {"type": "rule", "strokeWidth": 22, "strokeCap": "butt", "color": "black"},
      "encoding": {
        "x": {"datum": 938.3, "type": "quantitative"},
        "x2": {"datum": 956},
        "y": {"field": "p", "type": "quantitative"}
      }
    },
    {
      "data": {"name": "levels"},
      "mark": {"type": "rule", "strokeWidth": 22, "strokeCap": "butt", "yOffset": 5, "y2Offset": 5},
      "encoding": {
        "x": {"datum": 938.3, "type": "quantitative"},
        "x2": {"datum": 956},
        "y": {"field": "p", "type": "quantitative"},
        "color": {"field": "k", "type": "nominal", "legend": null}
      }
    },
    {
      "data": {"name": "levels"},
      "mark": {"type": "text", "font": "DejaVu Sans", "fontSize": 16, "color": "white", "align": "center", "baseline": "middle", "dy": 5},
      "encoding": {
        "x": {"datum": 947.15, "type": "quantitative"},
        "y": {"field": "p", "type": "quantitative"},
        "text": {"field": "p", "type": "quantitative", "format": ".1f"}
      }
    },
    {
      "data": {"values": [{"p": 6406.2}]},
      "mark": {"type": "point", "shape": "square", "filled": false, "size": 30, "color": "#FF0000", "strokeWidth": 1},
      "encoding": {
        "x": {"datum": 936.8, "type": "quantitative"},
        "y": {"field": "p", "type": "quantitative"}
      }
    },
    {
      "data": {"values": [{"p": 6406.2}]},
      "mark": {"type": "point", "shape": "triangle-right", "filled": true, "size": 40, "color": "#FF0000"},
      "encoding": {
        "x": {"datum": -0.6, "type": "quantitative"},
        "y": {"field": "p", "type": "quantitative"}
      }
    },
    {
      "data": {"values": [{"p": 6933.0}]},
      "mark": {"type": "point", "shape": "triangle-down", "filled": true, "size": 60, "color": "#A8A8A8"},
      "encoding": {
        "x": {"datum": 468.2, "type": "quantitative"},
        "y": {"field": "p", "type": "quantitative"}
      }
    },
    {
      "data": {"values": [{"p": 6929.06}]},
      "mark": {"type": "text", "text": "▼", "font": "DejaVu Sans", "fontSize": 13, "color": "black", "align": "center", "baseline": "middle"},
      "encoding": {
        "x": {"datum": 2.17, "type": "quantitative"},
        "y": {"field": "p", "type": "quantitative"}
      }
    },
    {
      "data": {"values": [{"p": 6929.06}]},
      "mark": {"type": "text", "text": "US500,M30  6638.9 6641.2 6638.1 6640.4", "font": "DejaVu Sans Condensed, DejaVu Sans", "fontSize": 18, "color": "black", "align": "left", "baseline": "middle"},
      "encoding": {
        "x": {"datum": 6.2, "type": "quantitative"},
        "y": {"field": "p", "type": "quantitative"}
      }
    }
  ]
}
